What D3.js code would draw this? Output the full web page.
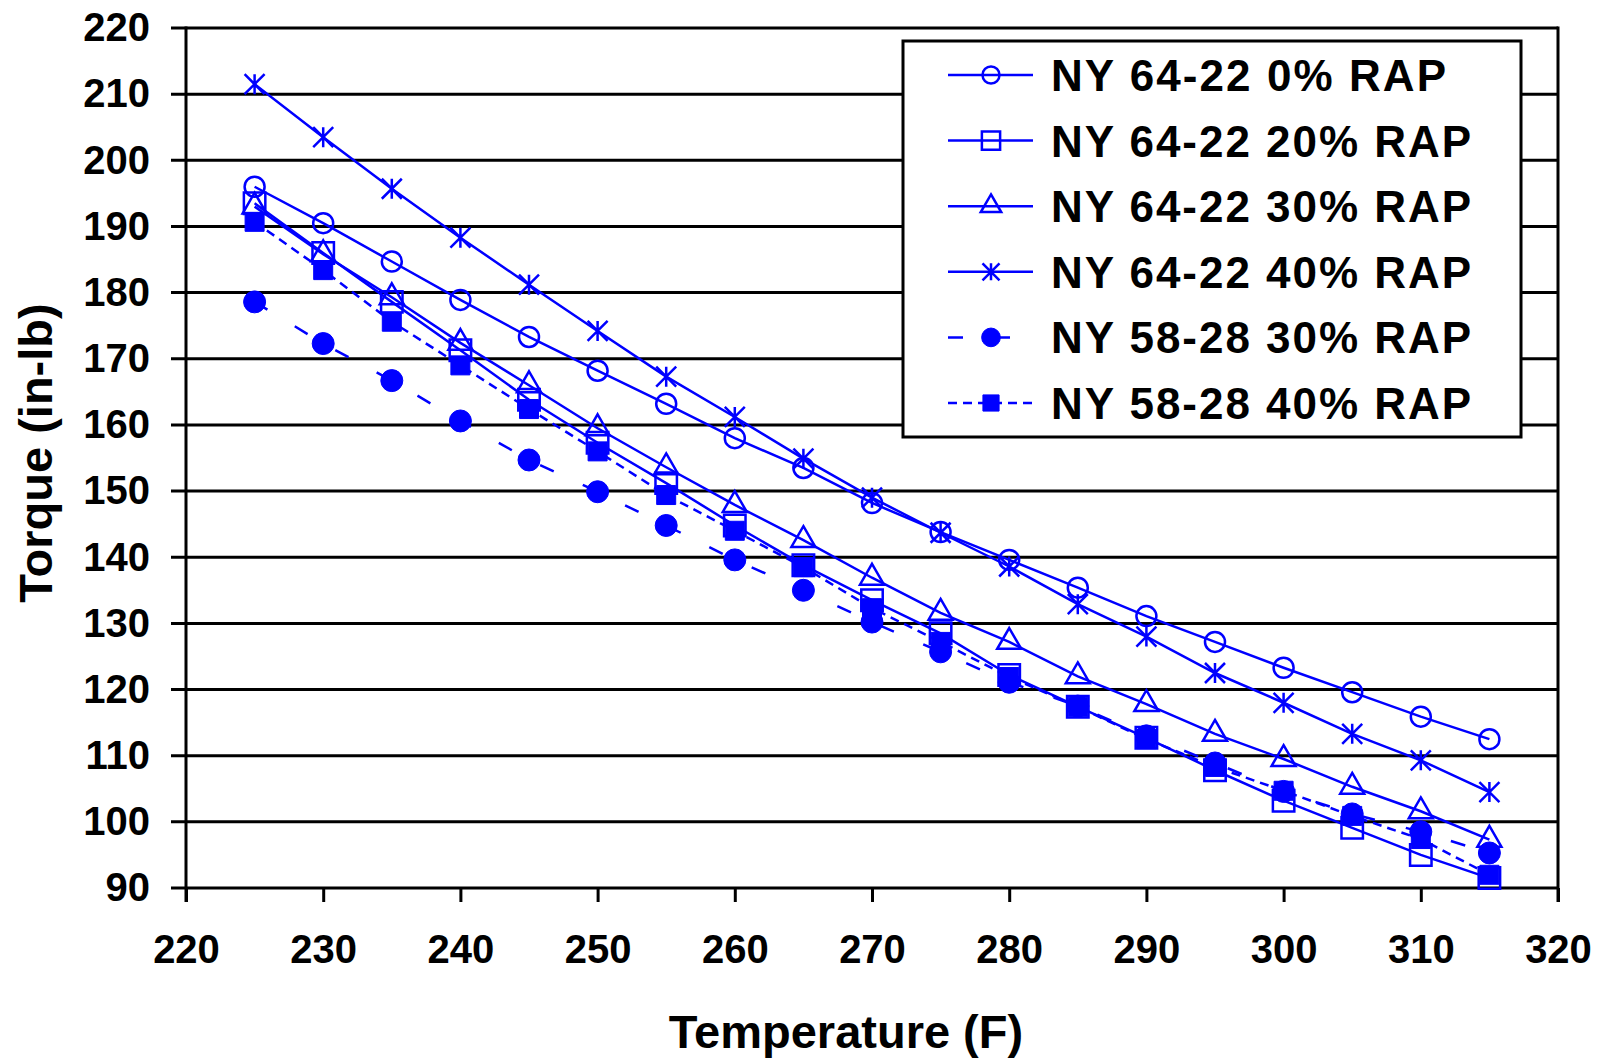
<!DOCTYPE html>
<html>
<head>
<meta charset="utf-8">
<script src="https://cdn.jsdelivr.net/npm/d3@7/dist/d3.min.js"></script>
<style>
  body { margin: 0; background: #fff; }
  svg { display: block; }
</style>
</head>
<body>
<svg id="chart" width="1597" height="1060"></svg>
<script>
// values
var temps = [225, 230, 235, 240, 245, 250, 255, 260, 265, 270, 275, 280, 285, 290, 295, 300, 305, 310, 315];
var ny6422_0  = [196, 190.5, 184.7, 178.9, 173.3, 168.2, 163.2, 158, 153.5, 148.2, 143.8, 139.6, 135.4, 131.1, 127.2, 123.3, 119.6, 115.9, 112.5];
var ny6422_20 = [193.5, 186, 178.6, 171.3, 163.8, 157.3, 151.2, 144.8, 138.8, 133.5, 128.5, 122.2, 117.4, 112.7, 107.8, 103.2, 99.1, 95, 91.5];
var ny6422_30 = [193, 185.8, 179.3, 172.4, 166, 159.5, 153.6, 147.9, 142.6, 136.9, 131.6, 127.2, 122, 117.8, 113.3, 109.5, 105.3, 101.6, 97.3];
var ny6422_40 = [211.5, 203.5, 195.7, 188.3, 181.2, 174.2, 167.3, 161.2, 154.9, 149, 143.7, 138.6, 132.9, 128, 122.5, 118, 113.3, 109.3, 104.5];
var ny5828_30 = [178.6, 172.3, 166.7, 160.6, 154.7, 149.9, 144.8, 139.6, 135, 130.2, 125.7, 121.1, 117.5, 113, 108.9, 104.6, 101.2, 98.5, 95.3];
var ny5828_40 = [190.7, 183.4, 175.6, 169, 162.4, 156, 149.4, 144, 138.5, 132.3, 127.2, 121.9, 117.4, 112.5, 108.3, 104.7, 100.9, 97.4, 92];
var seriesNames = ["NY 64-22 0% RAP", "NY 64-22 20% RAP", "NY 64-22 30% RAP", "NY 64-22 40% RAP", "NY 58-28 30% RAP", "NY 58-28 40% RAP"];
var xTicks = [220, 230, 240, 250, 260, 270, 280, 290, 300, 310, 320];
var yTicks = [90, 100, 110, 120, 130, 140, 150, 160, 170, 180, 190, 200, 210, 220];
var xTitle = "Temperature (F)";
var yTitle = "Torque (in-lb)";

var blue = "#0000ff";
var font = "'Liberation Sans', Arial, sans-serif";

var svg = d3.select("#chart");
var margin = {top: 28, right: 39, bottom: 172, left: 186};
var width = +svg.attr("width") - margin.left - margin.right;
var height = +svg.attr("height") - margin.top - margin.bottom;

svg.append("rect").attr("width", 1597).attr("height", 1060).attr("fill", "#fff");

var x = d3.scaleLinear().domain([220, 320]).range([margin.left, margin.left + width]);
var y = d3.scaleLinear().domain([90, 220]).range([margin.top + height, margin.top]);

// gridlines, running out to the left over the tick marks
svg.append("g").selectAll("line").data(yTicks).enter().append("line")
    .attr("x1", margin.left - 15).attr("x2", margin.left + width)
    .attr("y1", function(d) { return y(d); }).attr("y2", function(d) { return y(d); })
    .attr("stroke", "#000").attr("stroke-width", 3);

// y axis labels
var gy = svg.append("g").attr("transform", "translate(" + margin.left + ",0)")
    .call(d3.axisLeft(y).tickValues(yTicks).tickSize(15).tickPadding(21));
gy.select(".domain").remove();
gy.selectAll("line").remove();
gy.selectAll("text").attr("font-family", font).attr("font-size", 40).attr("font-weight", "bold").attr("fill", "#000");

// x axis
var gx = svg.append("g").attr("transform", "translate(0," + (margin.top + height) + ")")
    .call(d3.axisBottom(x).tickValues(xTicks).tickSize(14).tickPadding(33));
gx.select(".domain").remove();
gx.selectAll("line").attr("stroke", "#000").attr("stroke-width", 3);
gx.selectAll("text").attr("font-family", font).attr("font-size", 40).attr("font-weight", "bold").attr("fill", "#000");

// left and right frame lines
svg.append("line").attr("x1", margin.left).attr("x2", margin.left)
    .attr("y1", margin.top - 1.5).attr("y2", margin.top + height + 14)
    .attr("stroke", "#000").attr("stroke-width", 3);
svg.append("line").attr("x1", margin.left + width).attr("x2", margin.left + width)
    .attr("y1", margin.top - 1.5).attr("y2", margin.top + height + 14)
    .attr("stroke", "#000").attr("stroke-width", 3);

// titles
svg.append("text").attr("x", 846).attr("y", 1048).attr("text-anchor", "middle")
    .attr("font-family", font).attr("font-size", 47).attr("font-weight", "bold").text(xTitle);
svg.append("text").attr("transform", "translate(52,453) rotate(-90)").attr("text-anchor", "middle")
    .attr("font-family", font).attr("font-size", 47).attr("font-weight", "bold").text(yTitle);

// markers
function asterisk(s) {
    return "M0," + (-s) + "L0," + s + "M" + (-s) + "," + (-s) + "L" + s + "," + s + "M" + (-s) + "," + s + "L" + s + "," + (-s);
}
var series = [
    {name: seriesNames[0], values: ny6422_0,  dash: null,    marker: "circle",   filled: false},
    {name: seriesNames[1], values: ny6422_20, dash: null,    marker: "square",   filled: false},
    {name: seriesNames[2], values: ny6422_30, dash: null,    marker: "triangle", filled: false},
    {name: seriesNames[3], values: ny6422_40, dash: null,    marker: "asterisk", filled: false},
    {name: seriesNames[4], values: ny5828_30, dash: "15,32", marker: "circle",   filled: true},
    {name: seriesNames[5], values: ny5828_40, dash: "9,6",   marker: "square",   filled: true}
];

function markerPath(s, k) {
    if (s.marker === "asterisk") return asterisk(10 * k);
    if (s.marker === "circle") return d3.symbol(d3.symbolCircle, s.filled ? 380 * k * k : 314 * k * k)();
    if (s.marker === "square") return d3.symbol(d3.symbolSquare, s.filled ? 361 * k * k : 460 * k * k)();
    return d3.symbol(d3.symbolTriangle, 250 * k * k)();
}

function drawMarker(sel, s, k) {
    sel.append("path").attr("d", markerPath(s, k))
        .attr("fill", s.filled ? blue : (s.marker === "asterisk" ? "none" : "#fff"))
        .attr("fill-opacity", s.filled ? 1 : 0)
        .attr("stroke", blue).attr("stroke-width", s.filled ? 1 : 2.5);
}

var line = d3.line().x(function(d) { return x(d[0]); }).y(function(d) { return y(d[1]); });

series.forEach(function(s) {
    var pts = temps.map(function(t, i) { return [t, s.values[i]]; });
    svg.append("path").datum(pts).attr("d", line)
        .attr("fill", "none").attr("stroke", blue).attr("stroke-width", 2.5)
        .attr("stroke-dasharray", s.dash);
    pts.forEach(function(p) {
        drawMarker(svg.append("g").attr("transform", "translate(" + x(p[0]) + "," + y(p[1]) + ")"), s, 1);
    });
});

// legend
var legend = svg.append("g");
legend.append("rect").attr("x", 903).attr("y", 41).attr("width", 618).attr("height", 396)
    .attr("fill", "#fff").attr("stroke", "#000").attr("stroke-width", 3);

series.forEach(function(s, i) {
    var ry = 75 + i * 65.6;
    legend.append("line").attr("x1", 948).attr("x2", 1033).attr("y1", ry).attr("y2", ry)
        .attr("stroke", blue).attr("stroke-width", 2.5).attr("stroke-dasharray", s.dash);
    drawMarker(legend.append("g").attr("transform", "translate(991," + ry + ")"), s, 0.85);
    legend.append("text").attr("x", 1051).attr("y", ry + 16)
        .attr("font-family", font).attr("font-size", 44).attr("font-weight", "bold")
        .attr("textLength", i === 0 ? 395 : 420).attr("lengthAdjust", "spacing")
        .text(s.name);
});
</script>
</body>
</html>
